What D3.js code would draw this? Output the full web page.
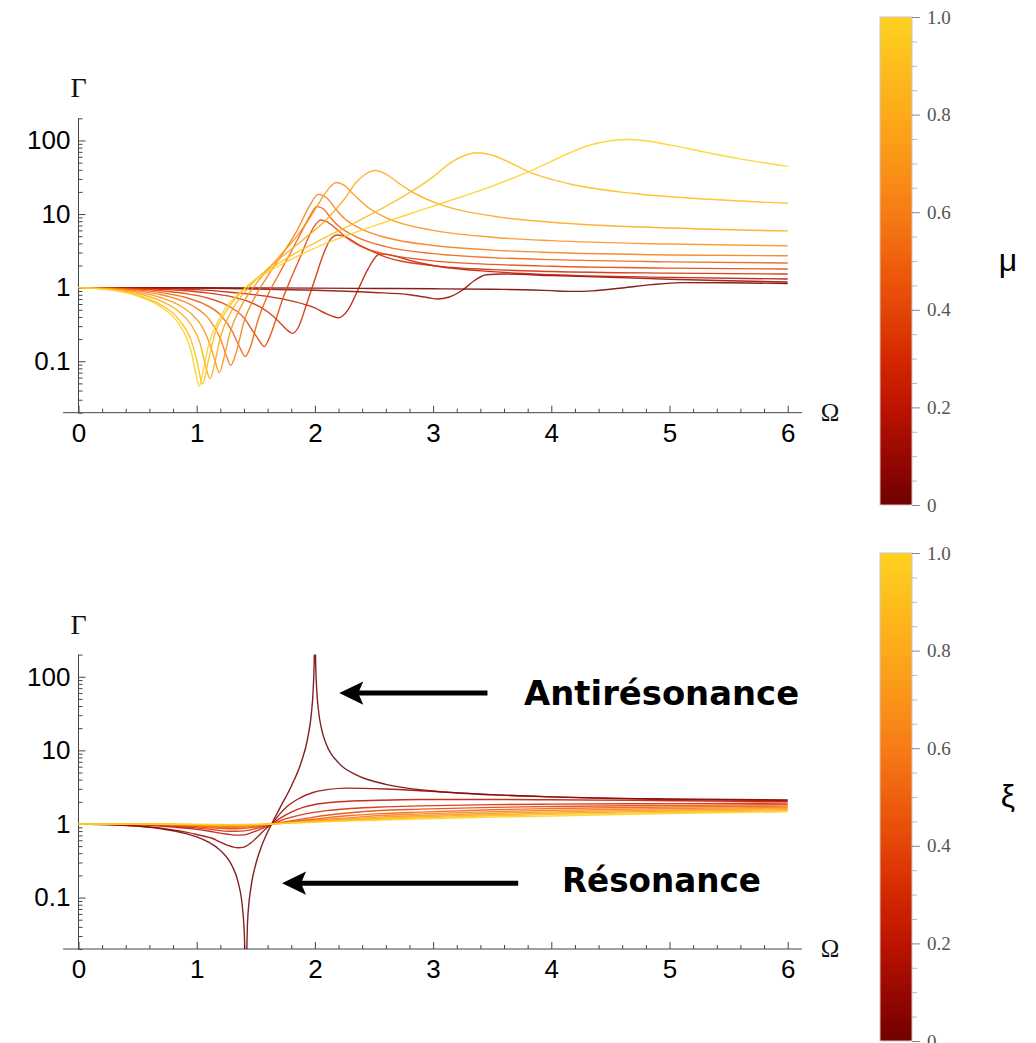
<!DOCTYPE html>
<html>
<head>
<meta charset="utf-8">
<script src="https://d3js.org/d3.v7.min.js"></script>
<style>
  body { margin: 0; background: #fff; }
  svg { display: block; }
  .axis text { font-family: "Liberation Sans", Arial, sans-serif; font-size: 26px; fill: #000; }
  .bar text { font-family: "Liberation Serif", "Times New Roman", serif; font-size: 19px; fill: #555; }
  .sym { font-family: "Liberation Serif", "Times New Roman", serif; fill: #111; }
  .note { font-family: "DejaVu Sans", sans-serif; font-weight: bold; font-size: 33px; fill: #000; }
</style>
</head>
<body>
<svg id="chart" width="1036" height="1043"></svg>
<script>
// ticks
const xTicks = [0, 1, 2, 3, 4, 5, 6];
const yTicks = [0.1, 1, 10, 100];
const yTickLabels = ["0.1", "1", "10", "100"];
const barTicks = [0, 0.2, 0.4, 0.6, 0.8, 1];
const barTickLabels = ["0", "0.2", "0.4", "0.6", "0.8", "1.0"];

// colour bar
const paletteStops = [0, 0.1, 0.2, 0.3, 0.4, 0.5, 0.6, 0.7, 0.8, 0.9, 1];
const paletteColors = ["#730000", "#960800", "#bc1400", "#d42800", "#e34508", "#ef600c",
                       "#f77c14", "#fb9418", "#fcaa1a", "#fdbd1c", "#fed221"];

// top panel : Gamma(Omega) for several mu
const muLevels = [0, 0.1, 0.2, 0.3, 0.4, 0.5, 0.6, 0.7, 0.8, 0.9, 1];
const mu00 = [[0,1],[1,0.998],[2,0.985],[2.5,0.975],[3,0.965],[3.5,0.95],[3.85,0.93],[4.0,0.91],[4.18,0.89],[4.35,0.905],[4.6,0.99],[4.85,1.1],[5.1,1.17],[5.5,1.165],[6,1.14]];
const mu01 = [[0,1],[1,0.985],[1.5,0.96],[2,0.92],[2.5,0.86],[2.8,0.8],[2.95,0.735],[3.04,0.70],[3.13,0.74],[3.25,0.93],[3.35,1.25],[3.45,1.5],[3.6,1.53],[4,1.46],[4.5,1.38],[5,1.3],[5.5,1.24],[6,1.19]];
const mu02 = [[0,1],[0.5,0.985],[1,0.94],[1.31,0.86],[1.6,0.76],[1.8,0.66],[2,0.53],[2.1,0.44],[2.2,0.39],[2.28,0.5],[2.36,0.9],[2.45,1.8],[2.55,2.88],[2.65,2.75],[2.8,2.35],[3,2.0],[3.5,1.65],[4,1.5],[5,1.38],[6,1.31]];
const mu03 = [[0,1],[0.3,0.99],[0.5,0.974],[0.7,0.947],[0.9,0.906],[1.1,0.844],[1.3,0.748],[1.45,0.638],[1.6,0.47],[1.7,0.34],[1.76,0.27],[1.81,0.239],[1.86,0.29],[1.93,0.6],[2.0,1.3],[2.07,2.8],[2.13,4.5],[2.19,5.2],[2.26,4.9],[2.35,4.0],[2.45,3.3],[2.6,2.6],[3,1.99],[3.5,1.76],[4,1.66],[5,1.574],[6,1.53]];
const mu04 = [[0,1],[0.3,0.985],[0.5,0.956],[0.7,0.908],[0.9,0.833],[1.1,0.717],[1.25,0.585],[1.4,0.388],[1.48,0.25],[1.53,0.19],[1.572,0.158],[1.61,0.2],[1.66,0.33],[1.73,0.72],[1.8,1.36],[1.88,2.7],[1.95,5.0],[2.0,7.0],[2.05,8.3],[2.1,7.9],[2.18,6.3],[2.3,4.4],[2.45,3.3],[2.6,2.85],[3,2.31],[3.5,2.07],[4,1.95],[5,1.84],[6,1.79]];
const mu05 = [[0,1],[0.3,0.976],[0.5,0.932],[0.7,0.857],[0.9,0.74],[1.05,0.611],[1.2,0.427],[1.3,0.257],[1.36,0.16],[1.41,0.116],[1.45,0.15],[1.52,0.37],[1.6,0.78],[1.7,1.57],[1.8,3.1],[1.9,6.3],[1.96,9.5],[2.015,12.6],[2.07,11.8],[2.13,9.0],[2.2,6.9],[2.35,4.9],[2.6,3.61],[3,2.9],[3.5,2.56],[4,2.4],[5,2.24],[6,2.16]];
const mu06 = [[0,1],[0.3,0.967],[0.5,0.904],[0.7,0.80],[0.85,0.684],[1.0,0.524],[1.1,0.383],[1.2,0.203],[1.25,0.12],[1.288,0.088],[1.33,0.125],[1.4,0.346],[1.5,0.785],[1.6,1.43],[1.75,3.29],[1.85,6.0],[1.95,12.5],[2.03,18.5],[2.1,16.5],[2.18,11.5],[2.25,8.7],[2.4,6.2],[2.6,4.8],[3,3.74],[3.5,3.24],[4,3.0],[5,2.78],[6,2.71]];
const mu07 = [[0,1],[0.3,0.954],[0.5,0.869],[0.7,0.729],[0.85,0.578],[0.95,0.448],[1.05,0.288],[1.12,0.155],[1.16,0.095],[1.19,0.07],[1.23,0.11],[1.28,0.24],[1.38,0.575],[1.5,1.118],[1.7,2.66],[1.85,5.06],[1.95,8.5],[2.05,15.5],[2.12,22.5],[2.18,26.8],[2.25,24.5],[2.32,19],[2.45,12.3],[2.6,8.93],[3,5.99],[3.5,4.85],[4,4.35],[5,3.91],[6,3.7]];
const mu08 = [[0,1],[0.3,0.941],[0.5,0.831],[0.7,0.656],[0.85,0.471],[0.95,0.317],[1.03,0.173],[1.08,0.08],[1.113,0.058],[1.15,0.09],[1.2,0.21],[1.3,0.498],[1.45,1.046],[1.7,2.46],[1.9,4.48],[2.1,8.5],[2.25,16],[2.35,27],[2.43,35],[2.51,39],[2.6,35],[2.7,27],[2.8,21],[3,14.6],[3.5,9.4],[4,7.74],[5,6.46],[6,5.9]];
const mu09 = [[0,1],[0.3,0.926],[0.5,0.79],[0.7,0.58],[0.85,0.368],[0.95,0.197],[1.0,0.105],[1.05,0.049],[1.09,0.088],[1.15,0.226],[1.25,0.48],[1.4,0.94],[1.7,2.18],[2.0,4.07],[2.3,7.1],[2.6,12.7],[2.8,19.5],[3.0,32],[3.15,50],[3.25,61],[3.363,68],[3.5,63],[3.65,50],[3.8,38],[4.14,26],[4.7,19],[5.3,16],[6,14]];
const mu10 = [[0,1],[0.3,0.918],[0.5,0.77],[0.7,0.543],[0.85,0.319],[0.95,0.142],[0.99,0.072],[1.022,0.0455],[1.05,0.068],[1.1,0.165],[1.2,0.4],[1.4,0.96],[1.7,2.0],[2.0,3.45],[2.5,6.9],[3.0,12.8],[3.5,24],[3.87,41.5],[4.14,66],[4.3,84],[4.45,96],[4.64,103],[4.8,99],[5.0,87],[5.29,70],[5.57,57],[6,44.5]];
const muCurves = [mu00, mu01, mu02, mu03, mu04, mu05, mu06, mu07, mu08, mu09, mu10];

// bottom panel : Gamma(Omega) for several xi
const xiLevels = [0, 0.1, 0.2, 0.3, 0.4, 0.5, 0.6, 0.7, 0.8, 0.9, 1];
const xi00 = [[0,1],[0.3,0.977],[0.5,0.933],[0.7,0.86],[0.9,0.746],[1.0,0.667],[1.1,0.566],[1.2,0.4375],[1.3,0.268],[1.35,0.163],[1.39,0.0657],[1.405,0.0256],[1.414,0.005],[1.43,0.0459],[1.46,0.141],[1.5,0.286],[1.55,0.504],[1.634,1.0],[1.7,1.604],[1.8,3.26],[1.88,6.59],[1.94,14.9],[1.97,31.6],[1.985,64.9],[1.995,198],[2.0,1000],[2.005,201.8],[2.015,68.4],[2.03,35.1],[2.06,18.4],[2.1,11.76],[2.2,6.76],[2.35,4.63],[2.6,3.45],[3,2.8],[3.5,2.485],[4,2.333],[5,2.19],[6,2.125]];
const xi01 = [[0,1],[0.5,0.94],[0.8,0.83],[1.0,0.72],[1.15,0.62],[1.2,0.565],[1.3,0.49],[1.35,0.475],[1.4,0.485],[1.45,0.54],[1.52,0.68],[1.58,0.85],[1.634,1.0],[1.7,1.35],[1.76,1.7],[1.85,2.15],[1.99,2.7],[2.1,2.93],[2.27,3.07],[2.6,2.98],[2.89,2.83],[3.1,2.71],[3.5,2.5],[4,2.33],[4.5,2.22],[5,2.15],[6,2.08]];
const xi02 = [[0,1],[0.5,0.975],[0.8,0.91],[1.0,0.845],[1.15,0.775],[1.25,0.73],[1.33,0.705],[1.4,0.71],[1.48,0.78],[1.56,0.88],[1.634,1.0],[1.7,1.18],[1.8,1.45],[1.9,1.68],[2.0,1.84],[2.2,2.0],[2.55,2.1],[2.89,2.15],[3.5,2.15],[4,2.13],[5,2.07],[6,2.01]];
const xi03 = [[0,1],[0.5,0.985],[0.8,0.94],[1.0,0.885],[1.15,0.83],[1.28,0.795],[1.38,0.8],[1.48,0.85],[1.56,0.92],[1.634,1.0],[1.75,1.17],[1.9,1.35],[2.1,1.52],[2.3,1.62],[2.55,1.7],[2.89,1.76],[3.5,1.83],[4,1.86],[5,1.89],[6,1.92]];
const xi04 = [[0,1],[0.5,0.99],[0.8,0.955],[1.0,0.915],[1.15,0.88],[1.27,0.86],[1.38,0.865],[1.5,0.91],[1.634,1.0],[1.8,1.1],[2.0,1.25],[2.3,1.42],[2.55,1.52],[2.89,1.59],[3.5,1.68],[4,1.73],[5,1.79],[6,1.83]];
const xi05 = [[0,1],[0.5,0.993],[0.8,0.97],[1.0,0.94],[1.15,0.915],[1.27,0.9],[1.4,0.91],[1.52,0.945],[1.634,1.0],[1.8,1.08],[2.0,1.17],[2.3,1.3],[2.55,1.38],[2.89,1.45],[3.5,1.56],[4,1.62],[5,1.7],[6,1.75]];
const xi06 = [[0,1],[0.5,0.995],[0.8,0.978],[1.0,0.957],[1.15,0.94],[1.27,0.93],[1.4,0.937],[1.52,0.96],[1.634,1.0],[1.8,1.06],[2.0,1.13],[2.3,1.22],[2.55,1.3],[2.89,1.37],[3.5,1.47],[4,1.53],[5,1.62],[6,1.68]];
const xi07 = [[0,1],[0.5,0.996],[0.8,0.984],[1.0,0.97],[1.15,0.956],[1.27,0.95],[1.4,0.955],[1.52,0.972],[1.634,1.0],[1.8,1.05],[2.0,1.1],[2.3,1.17],[2.55,1.24],[2.89,1.3],[3.5,1.4],[4,1.46],[5,1.55],[6,1.62]];
const xi08 = [[0,1],[0.5,0.997],[0.8,0.988],[1.0,0.978],[1.15,0.968],[1.27,0.964],[1.4,0.967],[1.52,0.98],[1.634,1.0],[1.8,1.04],[2.0,1.08],[2.3,1.14],[2.55,1.19],[2.89,1.25],[3.5,1.34],[4,1.4],[5,1.49],[6,1.56]];
const xi09 = [[0,1],[0.5,0.998],[0.8,0.991],[1.0,0.984],[1.15,0.977],[1.27,0.974],[1.4,0.976],[1.52,0.985],[1.634,1.0],[1.8,1.035],[2.0,1.07],[2.3,1.12],[2.55,1.16],[2.89,1.21],[3.5,1.29],[4,1.35],[5,1.44],[6,1.51]];
const xi10 = [[0,1],[0.5,0.998],[0.8,0.993],[1.0,0.988],[1.15,0.983],[1.27,0.98],[1.4,0.982],[1.52,0.989],[1.634,1.0],[1.8,1.03],[2.0,1.06],[2.3,1.1],[2.55,1.13],[2.89,1.17],[3.5,1.24],[4,1.28],[5,1.39],[6,1.46]];
const xiCurves = [xi00, xi01, xi02, xi03, xi04, xi05, xi06, xi07, xi08, xi09, xi10];

// annotations of the bottom panel, in (Omega, Gamma)
const notes = [
  {text: "Antirésonance", tip: [2.206, 60], tail: 3.46, at: [3.77, 41.6], width: 275},
  {text: "Résonance", tip: [1.722, 0.157], tail: 3.72, at: [4.09, 0.12], width: 199}
];

const svg = d3.select("#chart");
const x = d3.scaleLinear().domain([0, 6]).range([78.5, 787.7]);
const color = d3.scaleLinear().domain(paletteStops).range(paletteColors).interpolate(d3.interpolateRgb);

const panels = [
  {curves: muCurves, levels: muLevels, top: 118.3, bottom: 412.7, barTop: 17, barBottom: 505, name: "μ", notes: []},
  {curves: xiCurves, levels: xiLevels, top: 654.6, bottom: 949, barTop: 553, barBottom: 1041, name: "ξ", notes: notes}
];

const minorX = d3.range(1, 30).map(d => d * 0.2).filter(d => Math.abs(d - Math.round(d)) > 1e-6);
const minorY = [];
[0.01, 0.1, 1, 10, 100].forEach(dec => {
  d3.range(2, 10).forEach(k => {
    let v = +(dec * k).toPrecision(3);
    if (v >= 0.02 && v <= 200) minorY.push(v);
  });
});
const minorBar = d3.range(0, 21).map(d => d * 0.05).filter(d => Math.abs(d * 5 - Math.round(d * 5)) > 1e-6);

// shared gradient for the colour bars
const grad = svg.append("defs").append("linearGradient")
  .attr("id", "barGrad")
  .attr("x1", 0).attr("y1", 1).attr("x2", 0).attr("y2", 0);
grad.selectAll("stop")
  .data(paletteStops).enter()
  .append("stop")
  .attr("offset", d => d)
  .attr("stop-color", (d, i) => paletteColors[i]);

panels.forEach(drawPanel);

function drawPanel(p, i) {
  const y = d3.scaleLog().domain([0.02, 200]).range([p.bottom, p.top]);
  const g = svg.append("g");

  svg.select("defs").append("clipPath")
    .attr("id", "clip" + i)
    .append("rect")
    .attr("x", x(0) - 1)
    .attr("y", p.top)
    .attr("width", x(6) - x(0) + 2)
    .attr("height", p.bottom - p.top);

  // axes
  const xAxis = g.append("g").attr("class", "axis")
    .attr("transform", `translate(0,${p.bottom})`)
    .style("color", "#444")
    .call(d3.axisBottom(x).tickValues(xTicks).tickSize(-7).tickPadding(11).tickFormat(d3.format("d")));
  xAxis.select(".domain").remove();

  const xMinor = g.append("g")
    .attr("transform", `translate(0,${p.bottom})`)
    .style("color", "#444")
    .call(d3.axisBottom(x).tickValues(minorX).tickSize(-4).tickFormat(""));
  xMinor.select(".domain").remove();

  const yAxis = g.append("g").attr("class", "axis")
    .attr("transform", `translate(${x(0)},0)`)
    .style("color", "#444")
    .call(d3.axisLeft(y).tickValues(yTicks).tickSize(-7).tickPadding(8).tickFormat((d, k) => yTickLabels[k]));
  yAxis.select(".domain").remove();

  const yMinor = g.append("g")
    .attr("transform", `translate(${x(0)},0)`)
    .style("color", "#444")
    .call(d3.axisLeft(y).tickValues(minorY).tickSize(-4).tickFormat(""));
  yMinor.select(".domain").remove();

  g.append("line")
    .attr("x1", x(-0.13)).attr("x2", x(6.12))
    .attr("y1", p.bottom).attr("y2", p.bottom)
    .attr("stroke", "#444");
  g.append("line")
    .attr("x1", x(0)).attr("x2", x(0))
    .attr("y1", p.top).attr("y2", p.bottom)
    .attr("stroke", "#444");

  g.append("text").attr("class", "sym")
    .attr("x", x(0)).attr("y", p.top - 21)
    .attr("text-anchor", "middle")
    .attr("font-size", 28)
    .text("Γ");
  g.append("text").attr("class", "sym")
    .attr("x", x(6.28)).attr("y", p.bottom + 8)
    .attr("font-size", 25)
    .text("Ω");

  // curves
  const line = d3.line()
    .x(d => x(d[0]))
    .y(d => y(d[1]))
    .curve(d3.curveMonotoneX);

  g.append("g")
    .attr("clip-path", `url(#clip${i})`)
    .selectAll("path")
    .data(p.curves).enter()
    .append("path")
    .attr("d", line)
    .attr("fill", "none")
    .attr("stroke", (d, k) => color(p.levels[k]))
    .attr("stroke-opacity", 0.88)
    .attr("stroke-width", 1.4)
    .attr("stroke-linejoin", "round");

  // arrows and labels
  p.notes.forEach(n => {
    let tx = x(n.tip[0]), ty = y(n.tip[1]), ex = x(n.tail);
    g.append("path")
      .attr("d", `M${tx},${ty} L${tx + 24},${ty - 11.7} L${tx + 19},${ty} L${tx + 24},${ty + 11.7} Z`)
      .attr("fill", "#000");
    g.append("line")
      .attr("x1", tx + 18).attr("x2", ex)
      .attr("y1", ty).attr("y2", ty)
      .attr("stroke", "#000")
      .attr("stroke-width", 5);
    g.append("text").attr("class", "note")
      .attr("x", x(n.at[0])).attr("y", y(n.at[1]))
      .attr("textLength", n.width)
      .attr("lengthAdjust", "spacingAndGlyphs")
      .text(n.text);
  });

  // colour bar
  const by = d3.scaleLinear().domain([0, 1]).range([p.barBottom, p.barTop]);
  const bar = svg.append("g").attr("class", "bar");
  bar.append("rect")
    .attr("x", 880).attr("y", by(1))
    .attr("width", 32).attr("height", by(0) - by(1))
    .attr("fill", "url(#barGrad)")
    .attr("stroke", "#c8c8c8")
    .attr("stroke-width", 1);

  const barAxis = bar.append("g")
    .attr("transform", "translate(912,0)")
    .style("color", "#888")
    .call(d3.axisRight(by).tickValues(barTicks).tickSize(8).tickPadding(7).tickFormat((d, k) => barTickLabels[k]));
  barAxis.select(".domain").remove();

  const barMinor = bar.append("g")
    .attr("transform", "translate(912,0)")
    .style("color", "#bbb")
    .call(d3.axisRight(by).tickValues(minorBar).tickSize(5).tickFormat(""));
  barMinor.select(".domain").remove();

  svg.append("text")
    .attr("x", 1008).attr("y", (p.barTop + p.barBottom) / 2 + 10)
    .attr("text-anchor", "middle")
    .attr("font-family", "'Liberation Sans', Arial, sans-serif")
    .attr("font-size", 32)
    .text(p.name);
}
</script>
</body>
</html>
